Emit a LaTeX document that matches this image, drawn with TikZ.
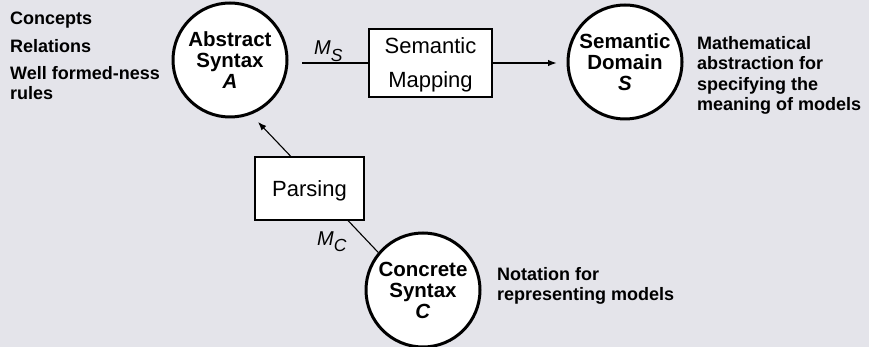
\documentclass[tikz,border=0pt]{standalone}
\usepackage{fontspec}
\setmainfont{Liberation Sans}
\usetikzlibrary{arrows.meta,calc}
\definecolor{bgc}{RGB}{228,228,234}
\begin{document}
\begin{tikzpicture}[x=1pt,y=-1pt,
  circ/.style={circle,draw=black,line width=3pt,fill=white,minimum size=114pt,inner sep=0pt,align=center,font=\fontsize{20.5}{21}\selectfont\bfseries},
  boxn/.style={draw=black,line width=1.3pt,fill=white,inner sep=0pt,align=center,text depth=0pt,font=\fontsize{22}{34}\selectfont},
  note/.style={anchor=north west,inner sep=0pt,align=left,font=\fontsize{18}{20.5}\selectfont\bfseries},
  conn/.style={line width=1.1pt,draw=black},
  arr/.style={-{Latex[length=8.5pt,width=6.5pt]}},
  lbl/.style={anchor=base west,inner sep=0pt,font=\fontsize{20}{20}\selectfont\itshape}]
\useasboundingbox (0,0) rectangle (869,347);
\fill[bgc] (0,0) rectangle (869,347);

\node[circ] (A) at (230,60) {Abstract\\Syntax\\\textit{A}};
\node[circ] (D) at (625,62) {Semantic\\Domain\\\textit{S}};
\node[circ] (C) at (423,290) {Concrete\\Syntax\\\textit{C}};
\node[boxn,minimum width=123pt,minimum height=68pt] (SM) at (430.5,63) {Semantic\\Mapping};
\node[boxn,minimum width=109pt,minimum height=63pt] (P) at (309.5,188.5) {Parsing};

\coordinate (Atip) at (258,122);
\draw[conn,shorten <=13.5pt] (A.east |- SM.west) -- (SM.west);
\draw[conn,arr,shorten >=10pt] (SM.east) -- (D.west |- SM.east);
\draw[conn,arr] ($(P.north west)!0.33!(P.north east)$) -- (Atip);
\draw[conn] ($(P.south west)!0.85!(P.south east)$) -- (C.140);

\node[lbl] (ms) at (314,55) {M\raisebox{-6.5pt}{\fontsize{17.5}{17.5}\selectfont S}};
\node[lbl] (mc) at (317,245) {M\raisebox{-6.5pt}{\fontsize{17.5}{17.5}\selectfont C}};

\node[note] (n1) at (10,12) {Concepts};
\node[note] (n2) at (10,39) {Relations};
\node[note] (n3) at (10,66) {Well formed-ness\\rules};
\node[note] (n4) at (697,36) {Mathematical\\abstraction for\\specifying the\\meaning of models};
\node[note] (n5) at (497,267) {Notation for\\representing models};
\end{tikzpicture}
\end{document}
